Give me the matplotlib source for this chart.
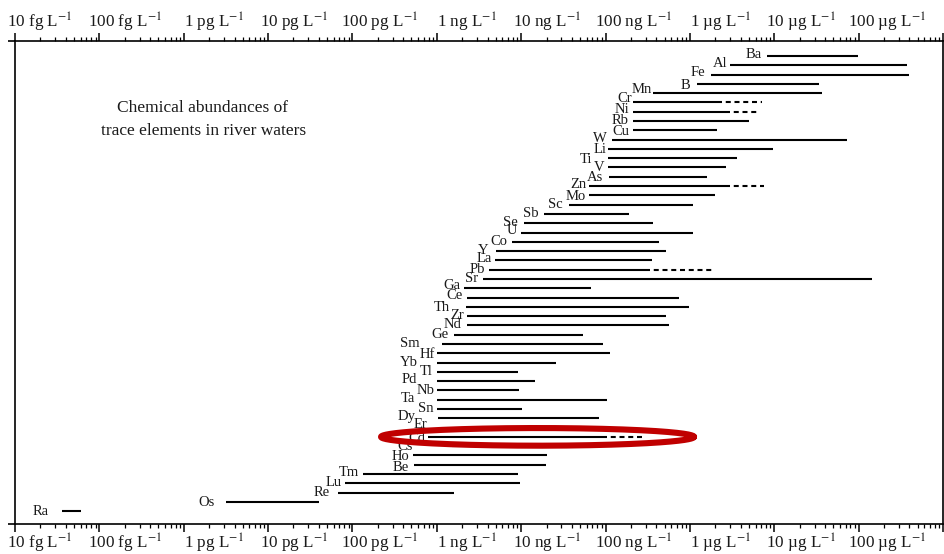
import numpy as np
import matplotlib
matplotlib.use("Agg")
import matplotlib.pyplot as plt
from matplotlib.ticker import LogLocator, NullFormatter

plt.rcParams["font.family"] = ["Liberation Serif", "DejaVu Serif"]
plt.rcParams["mathtext.fontset"] = "stix"

# Concentration ranges of dissolved trace elements (ng/L), top to bottom
elements = ["Ba", "Al", "Fe", "B", "Mn", "Cr", "Ni", "Rb", "Cu", "W",
            "Li", "Ti", "V", "As", "Zn", "Mo", "Sc", "Sb", "Se", "U",
            "Co", "Y", "La", "Pb", "Sr", "Ga", "Ce", "Th", "Zr", "Nd",
            "Ge", "Sm", "Hf", "Yb", "Tl", "Pd", "Nb", "Ta", "Sn", "Dy",
            "Er", "Cd", "Cs", "Ho", "Be", "Tm", "Lu", "Re", "Os", "Ra"]
low_ngL = [8100, 3000, 1800, 1200, 370, 210, 210, 210, 210, 120,
           106, 106, 106, 109, 63, 63, 37, 18.5, 10.7, 9.9,
           7.7, 5.0, 4.9, 4.1, 3.5, 2.1, 2.3, 2.2, 2.26, 2.26,
           1.6, 1.15, 1.0, 1.0, 1.0, 1.0, 1.0, 1.0, 1.0, 1.03,
           2.0, 0.78, 1.5, 0.52, 0.53, 0.133, 0.081, 0.067, 0.0032, 3.6e-5]
high_ngL = [97000, 370000, 390000, 34000, 37000, 2400, 3000, 5000, 2100, 72000,
            9600, 3600, 2700, 1600, 3000, 2000, 1100, 190, 370, 1100,
            430, 520, 360, 340, 143000, 67, 740, 970, 520, 560,
            54, 93, 112, 26, 9.1, 14.5, 9.4, 103, 10.2, 83,
            40, 103, 30, 20, 19.6, 9.1, 9.6, 1.6, 0.040, 6.0e-5]
# Poorly constrained upper limits, drawn dashed
upper_ngL = {"Cr": 7100, "Ni": 6200, "Zn": 7500, "Pb": 2000, "Cd": 270}

tick_numbers = ["10", "100", "1", "10", "100", "1", "10", "100", "1", "10", "100"]
tick_units = ["fg", "fg", "pg", "pg", "pg", "ng", "ng", "ng", "µg", "µg", "µg"]
tick_values_ngL = [1e-5, 1e-4, 1e-3, 1e-2, 1e-1, 1e0, 1e1, 1e2, 1e3, 1e4, 1e5]

highlighted = "Cd"

# Label nudges in pixels: (gap left of the bar start, shift upward)
label_nudge = {
    "Ba": (5, 3), "Al": (3, 3), "Fe": (6, 3), "B": (6, 0), "Mn": (2, 5),
    "Cr": (1, 5), "Ni": (3, 3), "Rb": (4, 2), "Cu": (3, 0), "W": (5, 2),
    "Li": (1, 1), "Ti": (16, 0), "V": (3, 1), "As": (6, 0), "Zn": (2, 3),
    "Mo": (3, 0), "Sc": (6, 1), "Sb": (5, 2), "Se": (6, 2), "U": (4, 3),
    "Co": (4, 1), "Y": (7, 2), "La": (3, 3), "Pb": (3, 1), "Sr": (5, 2),
    "Ga": (4, 4), "Ce": (5, 3), "Th": (16, 1), "Zr": (3, 2), "Nd": (5, 2),
    "Ge": (6, 1), "Sm": (22, 2), "Hf": (2, 0), "Yb": (19, 1), "Tl": (4, 2),
    "Pd": (20, 3), "Nb": (2, 1), "Ta": (22, 2), "Sn": (3, 2), "Dy": (22, 3),
    "Er": (35, 4), "Cd": (2, 0), "Cs": (39, 1), "Ho": (3, 0), "Be": (5, -2),
    "Tm": (4, 3), "Lu": (3, 2), "Re": (8, 1), "Os": (12, 1), "Ra": (13, 1),
}

W, H = 945, 554
PX = 72.0 / 100.0          # points per pixel at 100 dpi
TEXT = "#1a1a1a"

fig = plt.figure(figsize=(W / 100, H / 100), dpi=100)
ax = fig.add_axes([15 / W, 30 / H, 928 / W, 483 / H])
ax.set_xscale("log")
ax.set_xlim(1e-5, 1e6)
ax.set_ylim(50.38, -1.615)

# Element concentration bars
for i, (el, lo, hi) in enumerate(zip(elements, low_ngL, high_ngL)):
    ax.plot([lo, hi], [i, i], color="black", lw=1.5, solid_capstyle="butt", zorder=2)
    if el in upper_ngL:
        ax.plot([hi, upper_ngL[el]], [i, i], color="black", lw=1.5,
                linestyle=(2.4, (2.4, 1.8)), dash_capstyle="butt", zorder=2)
    gap, up = label_nudge.get(el, (4, 2))
    ax.annotate(el, xy=(lo, i), xytext=(-gap * PX, (up - 4.7) * PX),
                textcoords="offset points", ha="right", va="baseline",
                fontsize=10.5, color=TEXT, zorder=3)

# Red ring around the highlighted element
row = elements.index(highlighted)
t = np.linspace(0, 2 * np.pi, 600)
cx, a, b = 1.194, 1.855, 0.95
ax.plot(10 ** (cx + a * np.cos(t)), row + b * np.sin(t),
        color="#c00000", lw=4.4, zorder=10, solid_capstyle="round")

# Axis frame and ticks
for s in ax.spines.values():
    s.set_linewidth(1.2)
for yy in (0, 1):
    ax.plot([-7 / 928, 0], [yy, yy], transform=ax.transAxes, color="black",
            lw=1.2, clip_on=False, solid_capstyle="butt")

ax.xaxis.set_major_locator(LogLocator(base=10, numticks=40))
ax.xaxis.set_minor_locator(LogLocator(base=10, subs=np.arange(2, 10), numticks=400))
ax.xaxis.set_major_formatter(NullFormatter())
ax.xaxis.set_minor_formatter(NullFormatter())
ax.tick_params(axis="x", which="both", top=True, bottom=True, direction="out",
               labeltop=False, labelbottom=False)
ax.tick_params(axis="x", which="major", length=6.0, width=1.1)
ax.tick_params(axis="x", which="minor", length=3.0, width=0.9)
ax.set_yticks([])

num_shift = {1: 0, 2: -8, 3: -11}
for val, num, unit in zip(tick_values_ngL, tick_numbers, tick_units):
    lab = f"{num} {unit} L$^{{-1}}$"
    dx = num_shift[len(num)] * PX
    ax.annotate(lab, xy=(val, 1), xycoords=("data", "axes fraction"),
                xytext=(dx, 13.5 * PX), textcoords="offset points",
                ha="left", va="baseline", fontsize=12.3, color=TEXT,
                annotation_clip=False)
    ax.annotate(lab, xy=(val, 0), xycoords=("data", "axes fraction"),
                xytext=(dx, -24.5 * PX), textcoords="offset points",
                ha="left", va="baseline", fontsize=12.3, color=TEXT,
                annotation_clip=False)

fig.text(203 / W, 1 - 111.5 / H, "Chemical abundances of", ha="center",
         va="baseline", fontsize=12.5, color=TEXT)
fig.text(204 / W, 1 - 135 / H, "trace elements in river waters", ha="center",
         va="baseline", fontsize=12.5, color=TEXT)

fig.savefig("out.png", dpi=100)
